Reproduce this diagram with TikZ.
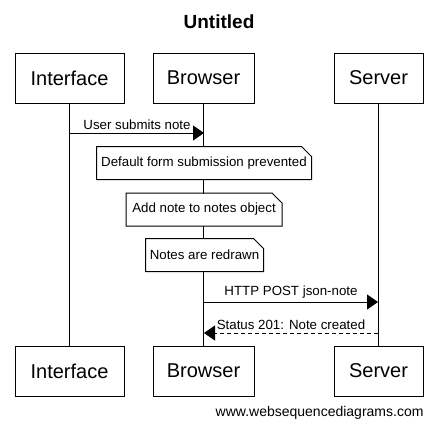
\documentclass[tikz,border=0pt]{standalone}
\usepackage{fontspec}
\setmainfont{Liberation Sans}
\usetikzlibrary{arrows.meta}
\usetikzlibrary{positioning}

\tikzset{
  actor/.style={draw,minimum width=#1,minimum height=50pt,inner sep=0pt,font=\fontsize{20}{20}\selectfont},
  notebox/.style={minimum width=#1,minimum height=32pt,inner sep=0pt,font=\fontsize{13.3}{14}\selectfont,fill=white},
  lbl/.style={font=\fontsize{13.3}{14}\selectfont,inner sep=0pt}
}

\begin{document}
\begin{tikzpicture}
			[x=1pt,y=1pt,line width=1pt,>={Triangle[length=11pt,width=15pt]}]
			\useasboundingbox (0,-429) rectangle (437,0);
			\node[font=\bfseries\fontsize{19}{19}\selectfont] (title) at (219,-22) {Untitled};
			
			% actors, top and bottom
			\node[actor=109pt] (i1) at (69.5,-78) {Interface};
			\node[actor=101pt] (b1) at (203.5,-78) {Browser};
			\node[actor=89pt] (s1) at (378.5,-78) {Server};
			\node[actor=109pt] (i2) at (69.5,-371) {Interface};
			\node[actor=101pt] (b2) at (203.5,-371) {Browser};
			\node[actor=89pt] (s2) at (378.5,-371) {Server};
			
			\foreach \from/\to in {i1/i2, b1/b2, s1/s2}
			\draw (\from) -- (\to);
			
			% notes on the browser
			\node[notebox=214pt] (n1) at (204,-163) {Default form submission prevented};
			\node[notebox=155pt] (n2) at (204,-209.5) {Add note to notes object};
			\node[notebox=117pt] (n3) at (204.5,-255) {Notes are redrawn};
			\foreach \n in {n1,n2,n3}
			\draw (\n.north west) -- ([xshift=-10pt]\n.north east)
			  -- ([yshift=-10pt]\n.north east) -- (\n.south east) -- (\n.south west) -- cycle;
			
			% messages
			\coordinate (m1a) at (70,-133);
			\coordinate (m1b) at (204,-133);
			\coordinate (m2a) at (204,-302);
			\coordinate (m2b) at (378,-302);
			\coordinate (m3a) at (378,-333);
			\coordinate (m3b) at (204,-333);
			\draw[->] (m1a) -- node[lbl,above=3pt] (l1) {User submits note} (m1b);
			\draw[->] (m2a) -- node[lbl,above=3pt] (l2) {HTTP POST json-note} (m2b);
			\draw[->,dash pattern=on 4pt off 3pt] (m3a) -- node[lbl,above=3pt] (l3) {Status 201: Note created} (m3b);
			
			\node[anchor=east,inner sep=0pt,font=\fontsize{14}{14}\selectfont] (web) at (424,-413) {www.websequencediagrams.com};
			\end{tikzpicture}
\end{document}
